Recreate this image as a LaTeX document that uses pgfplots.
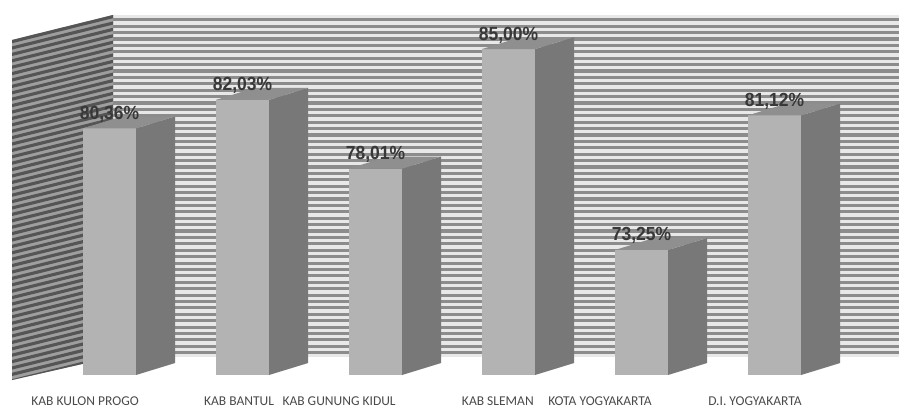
\documentclass[border=0pt]{standalone}
\usepackage{pgfplots}
\pgfplotsset{compat=1.18}
\usepackage{graphicx}
\usepackage{fontspec}
\setmainfont{Carlito}
\newfontfamily\valfont{Liberation Sans}
\definecolor{wallL}{HTML}{E8E8E8}
\definecolor{wallD}{HTML}{8C8C8C}
\definecolor{sideL}{HTML}{9E9E9E}
\definecolor{sideD}{HTML}{555555}
\definecolor{barF}{HTML}{B3B3B3}
\definecolor{barS}{HTML}{787878}
\definecolor{barT}{HTML}{8F8F8F}
\definecolor{txt}{HTML}{383838}
\definecolor{lab}{HTML}{4A4A4A}
% #1 = category position, #2 = value (%), #3 = label
\newcommand\threedbar[3]{%
  \pgfmathsetmacro\xa{#1-0.2}%
  \pgfmathsetmacro\xb{#1+0.2}%
  \pgfmathsetmacro\xc{#1+0.2+0.293}%
  \pgfmathsetmacro\xd{#1-0.2+0.293}%
  \pgfmathsetmacro\yt{#2+0.70}%
  \pgfmathsetmacro\yb{65.94+0.70}%
  \addplot[fill=barF,draw=none] coordinates {(\xa,65.94) (\xa,#2) (\xb,#2) (\xb,65.94)};
  \addplot[fill=barS,draw=none] coordinates {(\xb,65.94) (\xb,#2) (\xc,\yt) (\xc,\yb)};
  \addplot[fill=barT,draw=none] coordinates {(\xa,#2) (\xb,#2) (\xc,\yt) (\xd,\yt)};
  \node[anchor=base, inner sep=0pt, text=txt, yshift=9pt,
        font=\valfont\bfseries\fontsize{19}{20}\selectfont] at (axis cs:#1,#2) {\scalebox{0.92}[1]{#3}};
}
\begin{document}
\begin{tikzpicture}
\path[use as bounding box] (0,0) rectangle (899pt,410pt);
\begin{scope}[shift={(0pt,410pt)}, x=1pt, y=-1pt]
  % back wall
  \begin{scope}
    \clip (113,15) rectangle (899,357);
    \fill[wallL] (113,15) rectangle (899,357);
    \foreach \i in {0,...,53} \fill[wallD] (113,{15+6.4*\i+3.3}) rectangle (899,{15+6.4*\i+6.4});
  \end{scope}
  % left wall
  \begin{scope}
    \clip (12,40) -- (113,15) -- (113,357) -- (12,380) -- cycle;
    \fill[sideL] (0,0) rectangle (120,400);
    \foreach \i in {0,...,60} \fill[sideD] (12,{40+6.4*\i}) -- (113,{15+6.4*\i}) -- (113,{18.2+6.4*\i}) -- (12,{43.2+6.4*\i}) -- cycle;
  \end{scope}
\end{scope}
\begin{axis}[at={(0,0)}, anchor=south west, scale only axis,
  width=899pt, height=410pt,
  xmin=-0.8233, xmax=5.9361, ymin=63.893, ymax=87.870,
  hide axis, clip=false]
  \threedbar{0}{80.36}{80,36\%}
  \threedbar{1}{82.03}{82,03\%}
  \threedbar{2}{78.01}{78,01\%}
  \threedbar{3}{85.00}{85,00\%}
  \threedbar{4}{73.25}{73,25\%}
  \threedbar{5}{81.12}{81,12\%}
  \begin{scope}[every node/.style={anchor=base, inner sep=0pt, text=lab, font=\fontsize{13.5}{14}\selectfont}]
  \node at (axis cs:-0.184,64.15) {KAB KULON PROGO};
  \node at (axis cs:0.974,64.15) {KAB BANTUL};
  \node at (axis cs:1.726,64.15) {KAB GUNUNG KIDUL};
  \node at (axis cs:2.920,64.15) {KAB SLEMAN};
  \node at (axis cs:3.688,64.15) {KOTA YOGYAKARTA};
  \node at (axis cs:4.853,64.15) {D.I. YOGYAKARTA};
  \end{scope}
\end{axis}
\end{tikzpicture}
\end{document}
